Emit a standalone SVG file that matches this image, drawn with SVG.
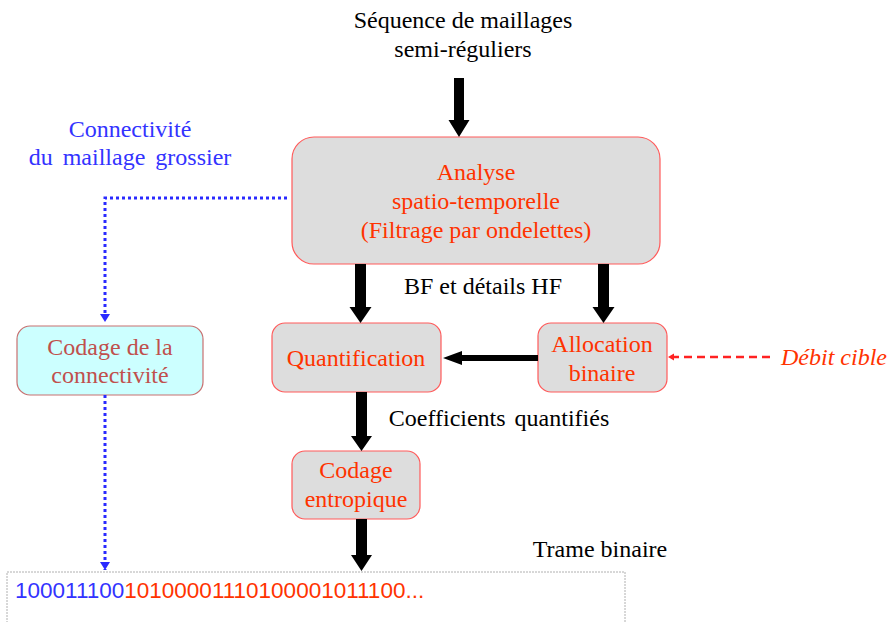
<svg xmlns="http://www.w3.org/2000/svg" width="890" height="622" viewBox="0 0 890 622">
<style>
.t{font-size:24px;text-anchor:middle}
.blk{fill:#000}
.red{fill:#ff3300}
.blue{fill:#3333ff}
.box{fill:#dddddd;stroke:#ff5a5a;stroke-width:1.2}
.cyan{fill:#ccffff;stroke:#c87070;stroke-width:1.2}
.thick{fill:#000}
.dot{fill:none;stroke:#2a2aff;stroke-width:3;stroke-dasharray:3 3}
</style>
<defs>
<marker id="bluehead" markerWidth="10" markerHeight="10" refX="8" refY="5" orient="auto" markerUnits="userSpaceOnUse" viewBox="0 0 10 10">
<path d="M0,0 L8,5 L0,10 Z" fill="#2a2aff"/>
</marker>
<marker id="redhead" markerWidth="8" markerHeight="8" refX="6" refY="4" orient="auto" markerUnits="userSpaceOnUse" viewBox="0 0 8 8">
<path d="M0,0.5 L6,4 L0,7.5 Z" fill="#ff2222"/>
</marker>
</defs>

<g font-family="Liberation Serif, DejaVu Serif, serif">
<g id="title">
<text x="463" y="28" class="t blk">Séquence de maillages</text>
<text x="463" y="57" class="t blk">semi-réguliers</text>
</g>

<g id="analyse">
<rect x="292" y="137" width="368" height="127" rx="22" class="box"/>
<text x="476" y="180" class="t red">Analyse</text>
<text x="476" y="209" class="t red">spatio-temporelle</text>
<text x="476" y="238" class="t red">(Filtrage par ondelettes)</text>
</g>

<g id="connectivite-label">
<text x="130" y="137" class="t blue">Connectivité</text>
<text x="130" y="165" class="t blue" word-spacing="4">du maillage grossier</text>
</g>

<g id="codage-connectivite">
<rect x="17" y="326" width="186" height="69" rx="13" class="cyan"/>
<text x="110" y="355" class="t" fill="#c0504d">Codage de la</text>
<text x="110" y="383" class="t" fill="#c0504d">connectivité</text>
</g>

<g id="quantification">
<rect x="272" y="323" width="169" height="69" rx="13" class="box"/>
<text x="356" y="366" class="t red">Quantification</text>
</g>

<g id="allocation">
<rect x="538" y="323" width="129" height="69" rx="13" class="box"/>
<text x="602" y="352" class="t red">Allocation</text>
<text x="602" y="381" class="t red">binaire</text>
</g>

<g id="codage-entropique">
<rect x="292" y="451" width="128" height="68" rx="13" class="box"/>
<text x="356" y="478" class="t red">Codage</text>
<text x="356" y="507" class="t red">entropique</text>
</g>

<g id="debit-cible">
<text x="834" y="365" class="t red" font-style="italic">Débit cible</text>
</g>

<g id="trame">
<text x="600" y="557" class="t blk">Trame binaire</text>
<rect x="7" y="572" width="618" height="60" fill="none" stroke="#b0b0b0" stroke-width="1" stroke-dasharray="2 1"/>
<text x="15" y="598" font-family="Liberation Sans, Arial, sans-serif" font-size="22.5"><tspan fill="#3333ff">100011100</tspan><tspan fill="#ff3300">10100001110100001011100...</tspan></text>
</g>

<g id="labels">
<text x="483" y="294" class="t blk">BF et détails HF</text>
<text x="499" y="426" class="t blk" word-spacing="3">Coefficients quantifiés</text>
</g>
</g>

<g id="connectors">
<path d="M454,78 H464 V120 H469.5 L459,137 L448.5,120 H454 Z" class="thick"/>
<path d="M355,264 H366 V307 H371.5 L360.5,323 L349.5,307 H355 Z" class="thick"/>
<path d="M598,264 H609 V307 H614.5 L603.5,323 L592.5,307 H598 Z" class="thick"/>
<path d="M538,355 V361 H462 V365 L443,358 L462,351 V355 Z" class="thick"/>
<path d="M356,392 H367 V436 H372 L361.5,451 L351,436 H356 Z" class="thick"/>
<path d="M356,519 H367 V555 H372 L361.5,571 L351,555 H356 Z" class="thick"/>
<polyline points="287,198 105,198 105,322" class="dot" marker-end="url(#bluehead)"/>
<line x1="105" y1="395" x2="105" y2="570" class="dot" marker-end="url(#bluehead)"/>
<line x1="770" y1="357" x2="668" y2="357" stroke="#ff2222" stroke-width="2.5" stroke-dasharray="8 5" marker-end="url(#redhead)"/>
</g>
</svg>
